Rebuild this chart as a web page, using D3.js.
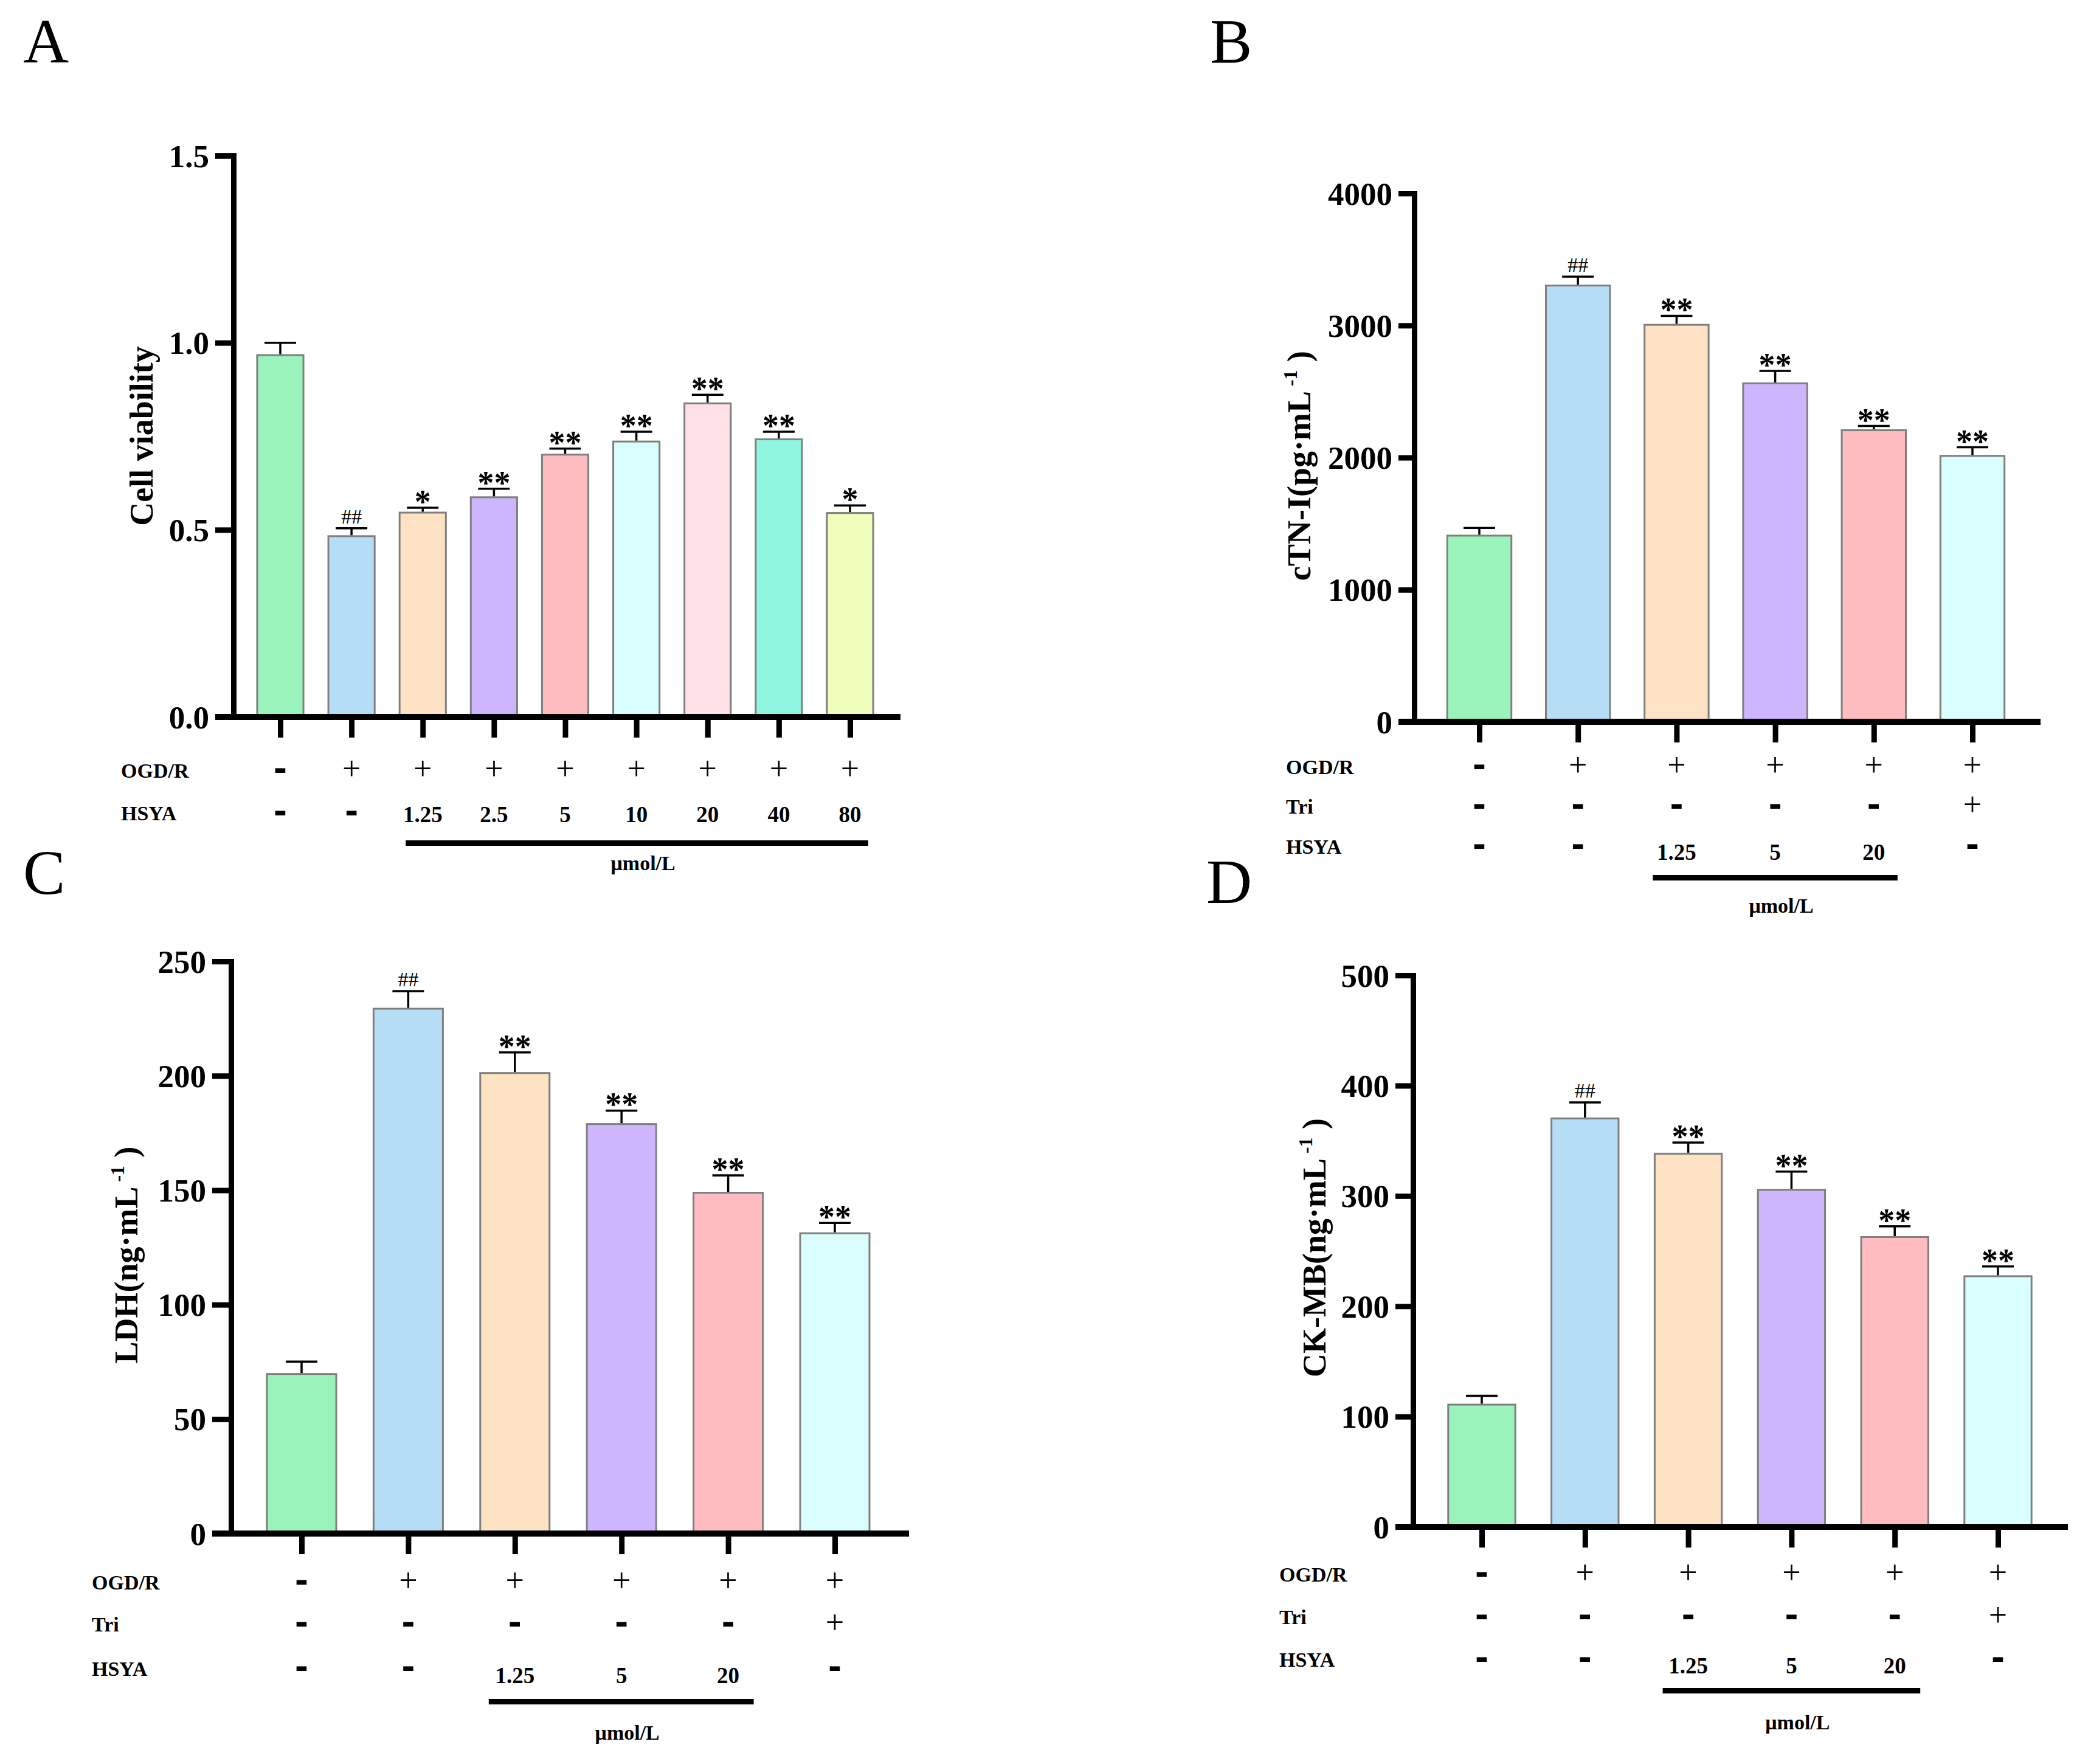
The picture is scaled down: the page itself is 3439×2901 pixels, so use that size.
<!DOCTYPE html>
<html>
<head>
<meta charset="utf-8">
<script src="https://cdn.jsdelivr.net/npm/d3@7"></script>
<style>
  body { margin: 0; background: #fff; }
</style>
</head>
<body>
<script>
// ---- data ----

// A: cell viability, HSYA dose series
const viabilityMean = [0.967, 0.483, 0.546, 0.587, 0.701, 0.736, 0.838, 0.742, 0.545];
const viabilityErr  = [0.033, 0.021, 0.013, 0.023, 0.016, 0.026, 0.023, 0.020, 0.020];
const viabilitySig  = ['', '##', '*', '**', '**', '**', '**', '**', '*'];
const ogdA  = ['-', '+', '+', '+', '+', '+', '+', '+', '+'];
const hsyaA = ['-', '-', '1.25', '2.5', '5', '10', '20', '40', '80'];
const colorsA = ['#99F3BA', '#B5DEF6', '#FDE3C3', '#CDB6FD', '#FEBCC1', '#DAFEFE', '#FEE0E6', '#8FF6DF', '#EFFEBB'];
const ticksA = [0, 0.5, 1.0, 1.5];

// B, C, D share the same six groups
const ogdRow  = ['-', '+', '+', '+', '+', '+'];
const triRow  = ['-', '-', '-', '-', '-', '+'];
const hsyaRow = ['-', '-', '1.25', '5', '20', '-'];
const sigRow  = ['', '##', '**', '**', '**', '**'];
const colorsSix = ['#99F3BA', '#B5DEF6', '#FDE3C3', '#CDB6FD', '#FEBCC1', '#DAFEFE'];

const ctniMean = [1409, 3302, 3005, 2562, 2207, 2013];
const ctniErr  = [58, 67, 68, 94, 32, 65];
const ticksB = [0, 1000, 2000, 3000, 4000];

const ldhMean = [69.7, 229.3, 201.2, 178.9, 148.9, 131.2];
const ldhErr  = [5.4, 7.7, 9.0, 5.9, 7.6, 4.5];
const ticksC = [0, 50, 100, 150, 200, 250];

const ckmbMean = [110.8, 370.3, 338.3, 305.6, 262.7, 227.2];
const ckmbErr  = [8.0, 14.5, 10.1, 16.5, 9.7, 8.9];
const ticksD = [0, 100, 200, 300, 400, 500];

const serif = '"Liberation Serif", "Times New Roman", serif';

const svg = d3.select('body').append('svg')
  .attr('width', 3439)
  .attr('height', 2901)
  .style('background', '#fff');

// panel layouts
const panels = [
  { letter: 'A', lx: 38, ly: 103,
    mean: viabilityMean, err: viabilityErr, sig: viabilitySig, colors: colorsA,
    ticks: ticksA, fmt: d3.format('.1f'), max: 1.5, y0: 1179, y1: 256,
    axisX: 384, axL: 354, axR: 1481, c0: 461, c1: 1398,
    ylabel: ['Cell viability'], ylx: 232, yly: 717,
    rows: [['OGD/R', ogdA, 1268], ['HSYA', hsyaA, 1338]],
    rowX: 199, numShift: 2, concPad: [28, 30], concY: 1382, unitY: 1420 },
  { letter: 'B', lx: 1990, ly: 103,
    mean: ctniMean, err: ctniErr, sig: sigRow, colors: colorsSix,
    ticks: ticksB, fmt: d3.format('d'), max: 4000, y0: 1187, y1: 318,
    axisX: 2326, axL: 2300, axR: 3356, c0: 2433, c1: 3244,
    ylabel: ['cTN-I(pg·mL', ')'], ylx: 2136, yly: 766,
    rows: [['OGD/R', ogdRow, 1262], ['Tri', triRow, 1327], ['HSYA', hsyaRow, 1393]],
    rowX: 2115, numShift: 9, concPad: [39, 39], concY: 1439, unitY: 1490 },
  { letter: 'C', lx: 38, ly: 1470,
    mean: ldhMean, err: ldhErr, sig: sigRow, colors: colorsSix,
    ticks: ticksC, fmt: d3.format('d'), max: 250, y0: 2522, y1: 1581,
    axisX: 380, axL: 349, axR: 1495, c0: 496, c1: 1373,
    ylabel: ['LDH(ng·mL', ')'], ylx: 207, yly: 2064,
    rows: [['OGD/R', ogdRow, 2603], ['Tri', triRow, 2672], ['HSYA', hsyaRow, 2745]],
    rowX: 151, numShift: 11, concPad: [43, 42], concY: 2794, unitY: 2850 },
  { letter: 'D', lx: 1984, ly: 1485,
    mean: ckmbMean, err: ckmbErr, sig: sigRow, colors: colorsSix,
    ticks: ticksD, fmt: d3.format('d'), max: 500, y0: 2511, y1: 1604,
    axisX: 2324, axL: 2295, axR: 3401, c0: 2437, c1: 3286,
    ylabel: ['CK-MB(ng·mL', ')'], ylx: 2161, yly: 2052,
    rows: [['OGD/R', ogdRow, 2590], ['Tri', triRow, 2660], ['HSYA', hsyaRow, 2730]],
    rowX: 2104, numShift: 10, concPad: [42, 42], concY: 2776, unitY: 2833 }
];

panels.forEach(drawPanel);

function drawPanel(p) {
  const g = svg.append('g');
  const n = p.mean.length;

  const y = d3.scaleLinear().domain([0, p.max]).range([p.y0, p.y1]);
  const x = d3.scalePoint().domain(d3.range(n)).range([p.c0, p.c1]);
  const bw = x.step() * 0.65;

  // panel letter
  g.append('text')
    .attr('x', p.lx).attr('y', p.ly)
    .attr('font-family', serif).attr('font-size', 104)
    .text(p.letter);

  // bars
  g.append('g').selectAll('rect')
    .data(p.mean)
    .join('rect')
    .attr('x', (d, i) => x(i) - bw / 2)
    .attr('y', d => y(d))
    .attr('width', bw)
    .attr('height', d => y(0) - y(d))
    .attr('fill', (d, i) => p.colors[i])
    .attr('stroke', '#7f7f7f')
    .attr('stroke-width', 3);

  // error bars (upper only)
  const eb = g.append('g').attr('stroke', '#000').attr('stroke-width', 3.5);
  eb.selectAll('line.v')
    .data(p.mean)
    .join('line')
    .attr('class', 'v')
    .attr('x1', (d, i) => x(i)).attr('x2', (d, i) => x(i))
    .attr('y1', d => y(d) - 1.5)
    .attr('y2', (d, i) => y(d + p.err[i]));
  eb.selectAll('line.c')
    .data(p.mean)
    .join('line')
    .attr('class', 'c')
    .attr('x1', (d, i) => x(i) - 26).attr('x2', (d, i) => x(i) + 26)
    .attr('y1', (d, i) => y(d + p.err[i]))
    .attr('y2', (d, i) => y(d + p.err[i]));

  // significance marks
  g.append('g').selectAll('text')
    .data(p.sig)
    .join('text')
    .attr('x', (d, i) => x(i))
    .attr('y', (d, i) => y(p.mean[i] + p.err[i]) + (d[0] === '#' ? -8 : 8))
    .attr('text-anchor', 'middle')
    .attr('font-family', serif)
    .attr('font-weight', d => d[0] === '#' ? 'normal' : 'bold')
    .attr('font-size', d => d[0] === '#' ? 34 : 54)
    .text(d => d);

  // y axis
  const yAxis = d3.axisLeft(y)
    .tickValues(p.ticks)
    .tickFormat(p.fmt)
    .tickSize(p.axisX - p.axL)
    .tickSizeOuter(0)
    .tickPadding(10);
  const ya = g.append('g')
    .attr('transform', `translate(${p.axisX},0)`)
    .call(yAxis);
  ya.select('.domain').attr('stroke-width', 9).attr('stroke-linecap', 'square');
  ya.selectAll('.tick line').attr('stroke-width', 9);
  ya.selectAll('.tick text')
    .attr('font-family', serif)
    .attr('font-weight', 'bold')
    .attr('font-size', 53)
    .attr('dy', '0.34em');

  // x axis baseline
  g.append('line')
    .attr('x1', p.axL).attr('x2', p.axR)
    .attr('y1', y(0)).attr('y2', y(0))
    .attr('stroke', '#000').attr('stroke-width', 10);

  // x axis ticks hanging below
  const xAxis = d3.axisBottom(x).tickSize(34).tickFormat('');
  const xa = g.append('g')
    .attr('transform', `translate(0,${y(0)})`)
    .call(xAxis);
  xa.select('.domain').remove();
  xa.selectAll('.tick line').attr('stroke-width', 9);

  // y axis title
  const yt = g.append('text')
    .attr('transform', `translate(${p.ylx},${p.yly}) rotate(-90)`)
    .attr('text-anchor', 'middle')
    .attr('dy', '0.35em')
    .attr('font-family', serif)
    .attr('font-weight', 'bold')
    .attr('font-size', 54);
  yt.append('tspan').text(p.ylabel[0]);
  if (p.ylabel.length > 1) {
    yt.append('tspan').attr('dy', -22).attr('font-size', 32).text(' -1');
    yt.append('tspan').attr('dy', 22).text(' ' + p.ylabel[1]);
  }

  // treatment rows
  p.rows.forEach(([label, vals, ry]) => {
    g.append('text')
      .attr('x', p.rowX).attr('y', ry + 11)
      .attr('font-family', serif)
      .attr('font-weight', 'bold')
      .attr('font-size', 34)
      .text(label);

    g.append('g').selectAll('text')
      .data(vals)
      .join('text')
      .attr('x', (d, i) => x(i))
      .attr('y', d => d === '+' ? ry + 14 : d === '-' ? ry + 15 : ry + 12 + p.numShift)
      .attr('text-anchor', 'middle')
      .attr('font-family', d => d === '-' ? '"DejaVu Sans", sans-serif' : serif)
      .attr('font-weight', d => d === '+' ? 'normal' : 'bold')
      .attr('font-size', d => d === '+' ? 54 : d === '-' ? 54 : 37)
      .text(d => d);
  });

  // concentration bracket
  const hs = p.rows[p.rows.length - 1][1];
  const doseIdx = hs.map((d, i) => (d !== '-' ? i : -1)).filter(i => i >= 0);
  const bx0 = x(doseIdx[0]) - p.concPad[0];
  const bx1 = x(doseIdx[doseIdx.length - 1]) + p.concPad[1];
  g.append('rect')
    .attr('x', bx0).attr('y', p.concY)
    .attr('width', bx1 - bx0).attr('height', 9)
    .attr('fill', '#000');
  g.append('text')
    .attr('x', (bx0 + bx1) / 2 + 10).attr('y', p.unitY + 11)
    .attr('text-anchor', 'middle')
    .attr('font-family', serif)
    .attr('font-weight', 'bold')
    .attr('font-size', 34)
    .text('μmol/L');
}
</script>
</body>
</html>
